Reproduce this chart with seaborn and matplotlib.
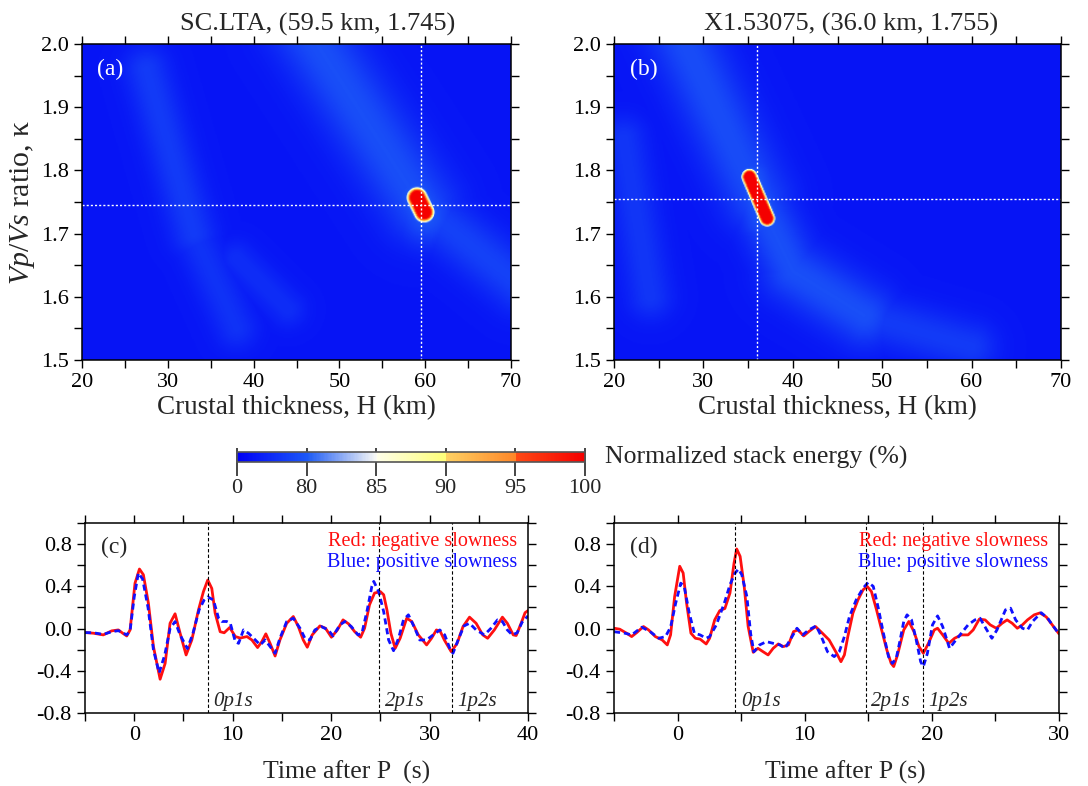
import numpy as np
import pandas as pd
import matplotlib
matplotlib.use('Agg')
import matplotlib.pyplot as plt
import matplotlib.colors as mcolors
from matplotlib.ticker import MultipleLocator, FormatStrFormatter
import seaborn as sns

# ---- data ----
h_range = [20, 70]
k_range = [1.5, 2.0]

# H-k stack (a): bright features as segments (H0, k0) -> (H1, k1),
# level (%) above base, width (px) and profile sharpness
a_best = (59.5, 1.745)
a_H0 = [46.0, 59.5, 27.5, 33.0, 38.0, 58.8, 59.09]
a_k0 = [2.03, 1.745, 1.96, 1.70, 1.66, 1.762, 1.757]
a_H1 = [59.5, 71.0, 33.0, 38.0, 44.0, 60.2, 59.91]
a_k1 = [1.745, 1.62, 1.70, 1.55, 1.58, 1.729, 1.734]
a_amp = [52, 40, 34, 26, 22, 58, 85]
a_wid = [26, 20, 16, 15, 13, 22, 12.3]
a_pow = [2, 2, 2, 2, 2, 2, 3]
a_base = 20

# H-k stack (b)
b_best = (36.0, 1.755)
b_H0 = [27.0, 36.0, 40.0, 48.0, 21.0, 35.3, 35.13]
b_k0 = [2.03, 1.757, 1.64, 1.57, 1.85, 1.79, 1.79]
b_H1 = [36.0, 40.0, 48.0, 60.0, 24.0, 36.9, 37.11]
b_k1 = [1.757, 1.64, 1.57, 1.52, 1.60, 1.723, 1.724]
b_amp = [50, 52, 52, 34, 30, 58, 85]
b_wid = [24, 20, 22, 18, 16, 18, 9.5]
b_pow = [2, 2, 2, 2, 2, 2, 3]
b_base = 20

levels = [0, 80, 85, 90, 95, 100]

# receiver functions (time s, amplitude)
c_red = [(-5.0, -0.038), (-4.15, -0.044), (-3.14, -0.06), (-2.29, -0.022), (-1.61, -0.013),
         (-1.17, -0.044), (-0.76, -0.07), (-0.42, -0.013), (0.08, 0.43), (0.53, 0.564),
         (0.93, 0.51), (1.44, 0.24), (1.95, -0.17), (2.63, -0.48), (3.14, -0.33),
         (3.64, 0.05), (4.15, 0.14), (4.66, -0.044), (5.27, -0.25), (5.85, -0.108),
         (6.53, 0.177), (7.03, 0.35), (7.47, 0.46), (7.88, 0.38), (8.22, 0.146),
         (8.73, -0.03), (9.14, -0.04), (9.7, 0.01), (10.27, -0.076), (10.77, -0.09),
         (11.45, -0.076), (11.95, -0.108), (12.53, -0.18), (12.96, -0.124), (13.37, -0.05),
         (13.8, -0.14), (14.31, -0.26), (14.8, -0.108), (15.49, 0.05), (16.16, 0.114),
         (16.67, 0.019), (17.17, -0.108), (17.58, -0.177), (18.08, -0.06), (18.86, 0.025),
         (19.43, 0.003), (20.03, -0.082), (20.64, -0.013), (21.21, 0.082), (21.78, 0.044),
         (22.39, -0.029), (23.0, -0.082), (23.4, 0.003), (23.9, 0.225), (24.41, 0.336),
         (25.0, 0.35), (25.34, 0.32), (25.67, 0.177), (26.07, -0.044), (26.51, -0.187),
         (27.01, -0.092), (27.68, 0.098), (28.19, 0.067), (28.86, -0.06), (29.7, -0.155),
         (30.2, -0.092), (30.7, -0.013), (31.1, -0.029), (31.5, -0.108), (32.2, -0.219),
         (32.8, -0.14), (33.4, 0.019), (34.06, 0.108), (34.73, 0.05), (35.4, -0.06),
         (35.9, -0.092), (36.58, -0.013), (37.4, 0.108), (37.9, 0.05), (38.5, -0.06),
         (38.8, -0.066), (39.3, 0.05), (39.7, 0.15), (40.0, 0.17)]
c_blue = [(-5.0, -0.038), (-4.15, -0.04), (-3.14, -0.055), (-2.29, -0.03), (-1.61, -0.02),
          (-1.17, -0.04), (-0.76, -0.06), (-0.42, -0.02), (0.0, 0.3), (0.42, 0.526),
          (0.85, 0.47), (1.4, 0.2), (1.95, -0.2), (2.53, -0.42), (3.1, -0.25),
          (3.64, 0.0), (4.15, 0.066), (4.66, -0.06), (5.4, -0.19), (5.95, -0.05),
          (6.6, 0.18), (7.1, 0.27), (7.47, 0.30), (8.05, 0.27), (8.56, 0.10),
          (8.9, 0.067), (9.4, 0.067), (9.76, 0.05), (10.27, -0.124), (10.6, -0.14),
          (11.1, -0.013), (11.6, -0.044), (12.3, -0.108), (12.8, -0.155), (13.3, -0.108),
          (13.8, -0.17), (14.31, -0.234), (14.8, -0.092), (15.49, 0.067), (16.16, 0.098),
          (16.84, 0.003), (17.34, -0.092), (17.84, -0.108), (18.35, -0.013), (19.0, 0.019),
          (19.7, -0.013), (20.2, -0.07), (20.9, 0.035), (21.4, 0.067), (22.05, 0.019),
          (22.73, -0.06), (23.13, -0.044), (23.67, 0.177), (24.14, 0.4), (24.33, 0.447),
          (24.83, 0.35), (25.34, 0.16), (25.84, -0.108), (26.34, -0.21), (26.85, -0.092),
          (27.35, 0.082), (27.85, 0.13), (28.5, 0.003), (29.0, -0.108), (29.7, -0.108),
          (30.37, -0.06), (31.04, -0.013), (31.54, -0.06), (32.05, -0.187), (32.38, -0.234),
          (32.9, -0.108), (33.5, 0.025), (34.06, 0.05), (34.73, -0.013), (35.57, -0.06),
          (36.24, 0.003), (36.9, 0.082), (37.4, 0.067), (37.9, -0.013), (38.4, -0.06),
          (38.9, -0.04), (39.4, 0.06), (40.0, 0.12)]
d_red = [(-5.0, 0.003), (-4.55, -0.006), (-4.01, -0.044), (-3.61, -0.076), (-3.21, -0.038),
         (-2.68, 0.019), (-2.28, -0.013), (-1.75, -0.076), (-1.21, -0.108), (-0.81, -0.155),
         (-0.55, -0.06), (-0.23, 0.304), (0.17, 0.59), (0.44, 0.526), (0.71, 0.24),
         (1.05, -0.044), (1.4, -0.092), (1.77, -0.1), (2.25, -0.146), (2.52, -0.092),
         (2.92, 0.082), (3.32, 0.17), (3.72, 0.19), (4.12, 0.336), (4.44, 0.62),
         (4.65, 0.754), (4.92, 0.684), (5.24, 0.40), (5.55, 0.02), (5.95, -0.225),
         (6.32, -0.187), (6.72, -0.219), (7.12, -0.25), (7.52, -0.187), (7.92, -0.146),
         (8.32, -0.171), (8.72, -0.155), (9.12, -0.029), (9.47, -0.013), (9.92, -0.07),
         (10.32, -0.029), (10.85, 0.019), (11.39, -0.044), (11.92, -0.108), (12.51, -0.234),
         (12.85, -0.314), (13.12, -0.25), (13.39, -0.076), (13.79, 0.146), (14.19, 0.272),
         (14.59, 0.367), (14.91, 0.40), (15.25, 0.35), (15.65, 0.177), (16.05, -0.013),
         (16.45, -0.2), (16.8, -0.33), (17.0, -0.36), (17.3, -0.25), (17.79, -0.013),
         (18.19, 0.067), (18.59, -0.029), (18.99, -0.171), (19.33, -0.234), (19.73, -0.14),
         (20.19, -0.013), (20.45, 0.003), (20.85, -0.06), (21.33, -0.14), (21.79, -0.092),
         (22.32, -0.06), (22.85, -0.06), (23.25, -0.013), (23.73, 0.089), (24.19, 0.082),
         (24.59, 0.035), (25.07, 0.003), (25.52, 0.05), (25.92, 0.082), (26.32, 0.05),
         (26.72, 0.003), (27.12, 0.035), (27.52, 0.082), (28.05, 0.13), (28.5, 0.148),
         (29.0, 0.11), (29.5, 0.03), (30.0, -0.05)]
d_blue = [(-5.0, -0.03), (-4.15, -0.044), (-3.61, -0.06), (-2.81, 0.013), (-2.15, -0.03),
          (-1.48, -0.092), (-0.95, -0.076), (-0.55, 0.013), (-0.15, 0.24), (0.25, 0.43),
          (0.52, 0.40), (0.92, 0.146), (1.32, -0.044), (1.77, -0.06), (2.25, -0.092),
          (2.52, -0.076), (3.05, 0.035), (3.72, 0.257), (4.12, 0.415), (4.52, 0.526),
          (4.79, 0.564), (5.05, 0.51), (5.45, 0.304), (5.75, -0.05), (6.0, -0.22),
          (6.45, -0.155), (6.99, -0.124), (7.52, -0.14), (8.05, -0.155), (8.45, -0.187),
          (8.85, -0.108), (9.39, 0.003), (9.84, -0.06), (10.32, -0.013), (10.9, 0.025),
          (11.25, -0.06), (11.79, -0.219), (12.32, -0.266), (12.72, -0.219), (13.12, -0.076),
          (13.52, 0.114), (14.05, 0.272), (14.59, 0.383), (14.99, 0.437), (15.39, 0.40),
          (15.79, 0.193), (16.19, -0.044), (16.59, -0.266), (16.9, -0.33), (17.2, -0.28),
          (17.45, -0.14), (17.79, 0.067), (18.05, 0.13), (18.4, 0.082), (18.77, -0.108),
          (19.12, -0.314), (19.33, -0.36), (19.65, -0.234), (20.05, 0.035), (20.45, 0.12),
          (20.85, 0.019), (21.39, -0.187), (21.79, -0.124), (22.32, -0.044), (22.85, 0.035),
          (23.39, 0.082), (23.79, 0.098), (24.32, -0.013), (24.72, -0.092), (25.12, -0.013),
          (25.79, 0.177), (26.19, 0.193), (26.59, 0.082), (27.12, 0.003), (27.52, -0.013),
          (27.92, 0.067), (28.43, 0.13), (28.6, 0.15), (29.1, 0.1), (29.5, 0.03), (30.0, -0.05)]

c_phases = [7.5, 24.9, 32.3]
d_phases = [4.55, 14.8, 19.3]
phase_names = ['0p1s', '2p1s', '1p2s']

# ---- style ----
sns.set_style('ticks')
plt.rcParams['font.family'] = ['Liberation Serif', 'DejaVu Serif']
plt.rcParams['mathtext.fontset'] = 'custom'
plt.rcParams['mathtext.rm'] = 'Liberation Serif'
plt.rcParams['mathtext.it'] = 'Liberation Serif:italic'
plt.rcParams['axes.unicode_minus'] = False

W, Hpx = 1088, 786
fig = plt.figure(figsize=(W / 100, Hpx / 100), dpi=100)


def rect(l, r, t, b):
    return [l / W, 1 - b / Hpx, (r - l) / W, (b - t) / Hpx]


def stack_field(H0, K0, H1, K1, amp, wid, pw, base, px_per_km):
    # each feature lifts the level near its segment; the brightest one wins
    hh = np.linspace(h_range[0], h_range[1], 401)
    kk = np.linspace(k_range[0], k_range[1], 301)
    HH, KK = np.meshgrid(hh, kk)
    X, Y = HH * px_per_km, KK * 632
    lift = np.zeros(HH.shape)
    for h0, k0, h1, k1, am, w, p in zip(H0, K0, H1, K1, amp, wid, pw):
        ax_, ay_ = h0 * px_per_km, k0 * 632
        bx_, by_ = h1 * px_per_km, k1 * 632
        dx, dy = bx_ - ax_, by_ - ay_
        s = np.clip(((X - ax_) * dx + (Y - ay_) * dy) / (dx * dx + dy * dy), 0, 1)
        d = np.hypot(X - ax_ - s * dx, Y - ay_ - s * dy)
        lift = np.maximum(lift, am * np.exp(-0.5 * (d / w) ** p))
    return np.clip(base + lift, 0, 100)


pos = [0, 1, 2, 3, 4, 5]
norm = mcolors.FuncNorm((lambda x: np.interp(x, levels, pos),
                         lambda y: np.interp(y, pos, levels)), vmin=0, vmax=100)
cmap = mcolors.LinearSegmentedColormap.from_list('hk', [
    (0.0, (0 / 255, 0 / 255, 245 / 255)), (0.2, (28 / 255, 88 / 255, 248 / 255)),
    (0.2, (28 / 255, 90 / 255, 245 / 255)), (0.4, (250 / 255, 250 / 255, 245 / 255)),
    (0.4, (255 / 255, 255 / 255, 235 / 255)), (0.6, (255 / 255, 255 / 255, 120 / 255)),
    (0.6, (255 / 255, 210 / 255, 100 / 255)), (0.8, (255 / 255, 135 / 255, 40 / 255)),
    (0.8, (255 / 255, 75 / 255, 20 / 255)), (1.0, (245 / 255, 0, 0))])


def style_axes(ax, xmaj, xmin, ymaj, ymin, fmt):
    ax.xaxis.set_major_locator(MultipleLocator(xmaj))
    ax.xaxis.set_minor_locator(MultipleLocator(xmin))
    ax.yaxis.set_major_locator(MultipleLocator(ymaj))
    ax.yaxis.set_minor_locator(MultipleLocator(ymin))
    ax.yaxis.set_major_formatter(FormatStrFormatter(fmt))
    ax.tick_params(which='both', direction='out', top=True, right=True,
                   length=6, width=1, labelsize=16, colors='black')
    for sp in ax.spines.values():
        sp.set_linewidth(1.1)
        sp.set_color('black')


panels_hk = [
    (rect(82, 511, 44, 360), a_H0, a_k0, a_H1, a_k1, a_amp, a_wid, a_pow, a_base, a_best,
     'SC.LTA, (59.5 km, 1.745)', '(a)', 0.55),
    (rect(614, 1061, 44, 360), b_H0, b_k0, b_H1, b_k1, b_amp, b_wid, b_pow, b_base, b_best,
     'X1.53075, (36.0 km, 1.755)', '(b)', 0.53),
]
im = None
for i, (r, H0, K0, H1, K1, amp, wid, pw, base, best, title, tag, tx) in enumerate(panels_hk):
    ax = fig.add_axes(r)
    field = stack_field(H0, K0, H1, K1, amp, wid, pw, base, r[2] * W / 50)
    im = ax.imshow(field, origin='lower', extent=[*h_range, *k_range], aspect='auto',
                   cmap=cmap, norm=norm, interpolation='bilinear')
    ax.axvline(best[0], color='white', lw=1, ls=(0, (1.5, 1.5)))
    ax.axhline(best[1], color='white', lw=1, ls=(0, (1.5, 1.5)))
    ax.set_xlim(*h_range)
    ax.set_ylim(*k_range)
    style_axes(ax, 10, 5, 0.1, 0.05, '%.1f')
    ax.set_xlabel('Crustal thickness, H (km)', fontsize=19.5, labelpad=2)
    if i == 0:
        ax.set_ylabel(r'$\mathit{Vp/Vs}$ ratio, κ', fontsize=21.5, labelpad=3)
    ax.set_title(title, fontsize=19, x=tx, pad=10)
    ax.text(0.035, 0.918, tag, transform=ax.transAxes, color='white', fontsize=17,
            va='center', ha='left')

# colorbar
cax = fig.add_axes(rect(237, 585, 452, 462))
cb = fig.colorbar(im, cax=cax, orientation='horizontal', ticks=levels)
cb.ax.tick_params(direction='inout', length=20, width=1.2, labelsize=16, pad=2)
cb.outline.set_edgecolor('#555555')
cb.outline.set_linewidth(1.2)
fig.text(605 / W, 1 - 457 / Hpx, 'Normalized stack energy (%)', fontsize=18.5,
         va='center', ha='left')

panels_rf = [
    (rect(85, 528, 523, 713), c_red, c_blue, c_phases, (-5, 40), '(c)', 'Time after P  (s)', 0.59),
    (rect(614, 1059, 523, 713), d_red, d_blue, d_phases, (-5, 30), '(d)', 'Time after P (s)', 0.52),
]
for r, red, blue, phases, xl, tag, xlabel, lx in panels_rf:
    ax = fig.add_axes(r)
    dr = pd.DataFrame(red, columns=['t', 'amp'])
    db = pd.DataFrame(blue, columns=['t', 'amp'])
    sns.lineplot(data=dr, x='t', y='amp', ax=ax, color='#ff1010', lw=2.0)
    sns.lineplot(data=db, x='t', y='amp', ax=ax, color='#1010ff', lw=2.0,
                 linestyle=(0, (2.2, 1.4)))
    for p, name in zip(phases, phase_names):
        ax.axvline(p, color='black', lw=0.8, ls=(0, (3, 2)))
        ax.text(p + 0.012 * (xl[1] - xl[0]), -0.69, name, fontsize=15, style='italic',
                ha='left', va='center')
    ax.set_xlim(*xl)
    ax.set_ylim(-0.8, 1.0)
    style_axes(ax, 10, 5, 0.4, 0.2, '%.1f')
    ax.set_xlabel(xlabel, fontsize=18.5)
    ax.xaxis.set_label_coords(lx, -0.25)
    ax.set_ylabel('')
    ax.text(0.035, 0.87, tag, transform=ax.transAxes, fontsize=17, va='center')
    ax.text(0.975, 0.905, 'Red: negative slowness', transform=ax.transAxes, color='#ff1010',
            fontsize=14.5, ha='right', va='center')
    ax.text(0.975, 0.79, 'Blue: positive slowness', transform=ax.transAxes, color='#1010ff',
            fontsize=14.5, ha='right', va='center')

fig.savefig('out.png', dpi=100)
